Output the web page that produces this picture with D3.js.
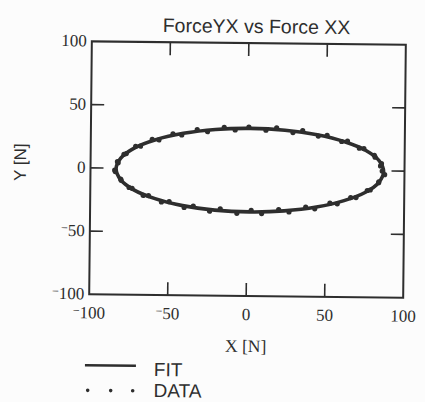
<!DOCTYPE html>
<html>
<head>
<meta charset="utf-8">
<script src="https://cdn.jsdelivr.net/npm/d3@7/dist/d3.min.js"></script>
<style>
  html, body { margin: 0; padding: 0; background: #fcfcfc; }
  svg { display: block; }
</style>
</head>
<body>
<script>
// Measured force samples (X, Y in newtons) around one loop
const dataX = [85.8, 84.7, 85.3, 81.2, 80.7, 74.0, 71.1, 63.5, 59.8, 50.5,
  44.9, 34.9, 28.7, 18.3, 11.5, 0.6, -8.1, -15.1, -25.7, -32.3,
  -42.1, -47.7, -56.6, -60.9, -68.3, -71.4, -77.3, -78.8, -82.9, -82.4,
  -84.6, -84.2, -80.7, -80.4, -75.3, -73.4, -66.3, -62.9, -54.6, -49.7,
  -40.1, -34.3, -23.9, -17.1, -6.5, 2.6, 9.3, 20.1, 26.7, 37.3,
  43.1, 52.7, 57.4, 65.9, 69.3, 76.4, 78.3, 83.6, 83.7, 87.4];
const dataY = [-0.1, 3.9, 5.7, 10.8, 12.2, 17.5, 17.8, 23.2, 22.9, 27.6,
  27.0, 31.3, 29.6, 33.2, 31.2, 33.6, 31.2, 33.1, 29.6, 31.1,
  26.8, 27.6, 22.7, 23.0, 17.6, 17.4, 11.6, 11.0, 5.2, 4.3,
  -1.6, -2.7, -8.6, -9.6, -15.2, -15.8, -21.3, -21.4, -26.4, -26.1,
  -30.5, -29.4, -33.2, -31.4, -34.7, -32.2, -34.7, -31.5, -33.2, -29.3,
  -30.5, -25.9, -26.4, -21.3, -21.3, -15.6, -15.2, -9.4, -8.7, -2.9];

// Fitted ellipse, sampled every 15 degrees
const fitX = [86.7, 83.8, 75.3, 61.7, 44.1, 23.6, 1.5, -20.6, -41.1, -58.7, -72.3, -80.8,
  -83.7, -80.8, -72.3, -58.7, -41.1, -20.6, 1.5, 23.6, 44.1, 61.7, 75.3, 83.8];
const fitY = [-0.5, 8.0, 16.0, 22.8, 28.1, 31.4, 32.5, 31.4, 28.1, 22.8, 16.0, 8.0,
  -0.5, -9.0, -17.0, -23.8, -29.1, -32.4, -33.5, -32.4, -29.1, -23.8, -17.0, -9.0];

const xTicks = [-100, -50, 0, 50, 100];
const yTicks = [-100, -50, 0, 50, 100];
const title = "ForceYX vs Force XX";
const xLabel = "X [N]";
const yLabel = "Y [N]";
const legendItems = ["FIT", "DATA"];

const W = 425, H = 402;
const ink = "#2e2e2e";
const serif = "'Liberation Serif', 'Times New Roman', serif";
const sans = "'Liberation Sans', Arial, sans-serif";

const svg = d3.select("body").append("svg")
  .attr("width", W).attr("height", H);

// the whole sheet sits at a slight clockwise tilt
const page = svg.append("g").attr("transform", "rotate(0.6 247 170)");

const x = d3.scaleLinear().domain([-100, 100]).range([90.5, 404.5]);
const y = d3.scaleLinear().domain([-100, 100]).range([296, 43]);

// tick label with a small raised minus sign
function tickText(sel) {
  sel.each(function (d) {
    const t = d3.select(this);
    t.text(null);
    if (d < 0) {
      t.append("tspan").attr("font-size", 12).attr("dy", -4).text("\u2212");
      t.append("tspan").attr("dy", 4).text(Math.abs(d));
    } else {
      t.text(d);
    }
  });
}

// frame
page.append("rect")
  .attr("x", x(-100)).attr("y", y(100))
  .attr("width", x(100) - x(-100)).attr("height", y(-100) - y(100))
  .attr("fill", "none").attr("stroke", ink).attr("stroke-width", 2);

const tickLen = 13;
const inner = xTicks.filter(d => d > -100 && d < 100);
const innerY = yTicks.filter(d => d > -100 && d < 100);
const ticks = page.append("g").attr("stroke", ink).attr("stroke-width", 1.6);
ticks.selectAll(".tb").data(inner).join("line")
  .attr("x1", d => x(d)).attr("x2", d => x(d))
  .attr("y1", y(-100)).attr("y2", y(-100) - tickLen);
ticks.selectAll(".tt").data(inner).join("line")
  .attr("x1", d => x(d)).attr("x2", d => x(d))
  .attr("y1", y(100)).attr("y2", y(100) + tickLen);
ticks.selectAll(".tl").data(innerY).join("line")
  .attr("y1", d => y(d)).attr("y2", d => y(d))
  .attr("x1", x(-100)).attr("x2", x(-100) + tickLen);
ticks.selectAll(".tr").data(innerY).join("line")
  .attr("y1", d => y(d)).attr("y2", d => y(d))
  .attr("x1", x(100)).attr("x2", x(100) - tickLen);

// tick labels
page.append("g").selectAll("text").data(xTicks).join("text")
  .attr("x", d => x(d)).attr("y", y(-100) + 24)
  .attr("text-anchor", "middle")
  .attr("font-family", serif).attr("font-size", 17).attr("fill", ink)
  .call(tickText);
page.append("g").selectAll("text").data(yTicks).join("text")
  .attr("x", x(-100) - 5).attr("y", d => y(d) + 5)
  .attr("text-anchor", "end")
  .attr("font-family", serif).attr("font-size", 17).attr("fill", ink)
  .call(tickText);

// title and axis titles
page.append("text").attr("x", 255).attr("y", 33)
  .attr("text-anchor", "middle").attr("font-family", sans)
  .attr("font-size", 19.5).attr("fill", ink).text(title);
page.append("text").attr("x", x(0)).attr("y", 352)
  .attr("text-anchor", "middle").attr("font-family", serif)
  .attr("font-size", 17.5).attr("fill", ink).text(xLabel);
page.append("text")
  .attr("transform", `translate(26,${y(0) - 5}) rotate(-90)`)
  .attr("text-anchor", "middle").attr("font-family", sans)
  .attr("font-size", 17).attr("fill", ink).text(yLabel);

// fitted ellipse
const fitPts = fitX.map((v, i) => [v, fitY[i]]);
const line = d3.line().x(d => x(d[0])).y(d => y(d[1])).curve(d3.curveCatmullRomClosed);
page.append("path").datum(fitPts)
  .attr("d", line).attr("fill", "none")
  .attr("stroke", ink).attr("stroke-width", 3.6);

// measured samples
const dataPts = dataX.map((v, i) => [v, dataY[i]]);
page.append("g").selectAll("circle").data(dataPts).join("circle")
  .attr("cx", d => x(d[0])).attr("cy", d => y(d[1]))
  .attr("r", 2.6).attr("fill", ink);

// legend
const lg = page.append("g");
lg.append("line").attr("x1", 87).attr("x2", 138).attr("y1", 367).attr("y2", 367)
  .attr("stroke", ink).attr("stroke-width", 2.5);
lg.selectAll("circle").data([90, 113, 135]).join("circle")
  .attr("cx", d => d).attr("cy", 392).attr("r", 1.8).attr("fill", ink);
lg.selectAll("text").data(legendItems).join("text")
  .attr("x", 156).attr("y", (d, i) => 377 + i * 21)
  .attr("font-family", sans).attr("font-size", 19).attr("fill", ink)
  .text(d => d);
</script>
</body>
</html>
